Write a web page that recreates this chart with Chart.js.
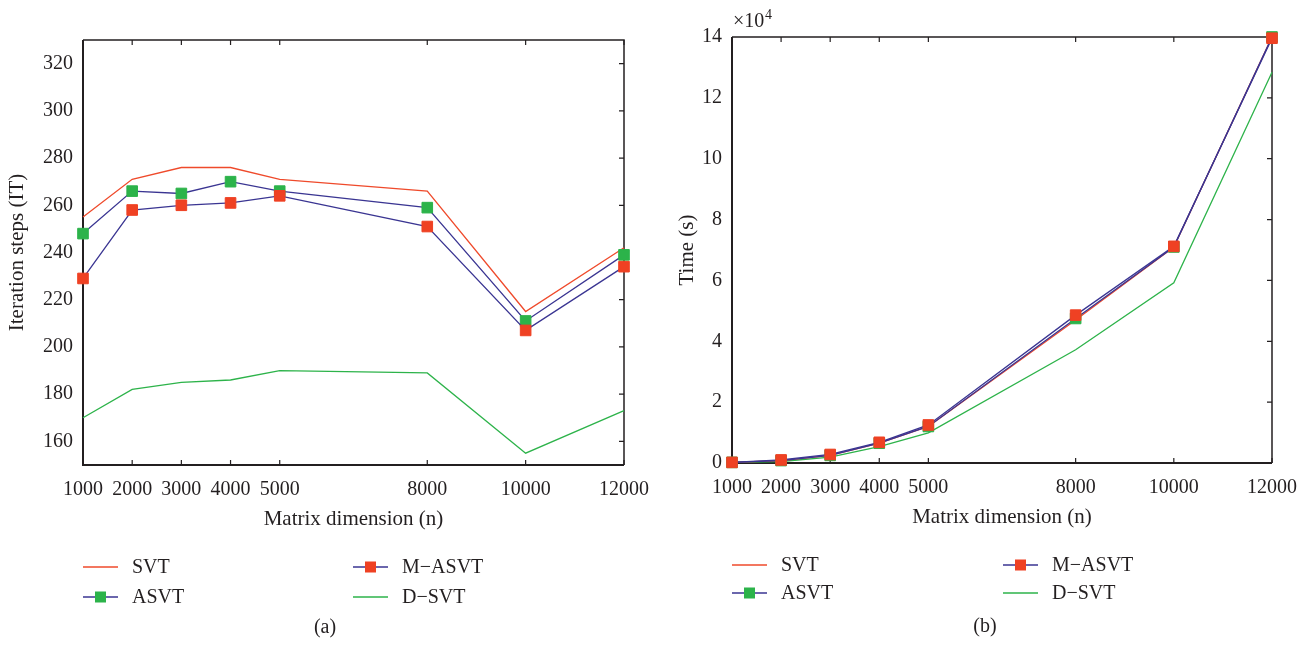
<!DOCTYPE html>
<html>
<head>
<meta charset="utf-8">
<script src="https://cdn.jsdelivr.net/npm/chart.js@4.4.1/dist/chart.umd.min.js"></script>
<style>
  body { margin: 0; background: #fff; overflow: hidden; }
  #wrap { position: relative; width: 1310px; height: 647px; overflow: hidden; }
  canvas { position: absolute; top: 0; }
  #itChart { left: 0; }
  #timeChart { left: 655px; }
</style>
</head>
<body>
<div id="wrap">
  <canvas id="itChart" width="670" height="647"></canvas>
  <canvas id="timeChart" width="665" height="647"></canvas>
</div>
<script>
// matrix dimension n
const dims = [1000, 2000, 3000, 4000, 5000, 8000, 10000, 12000];

// (a) iteration steps
const itSVT  = [255, 271, 276, 276, 271, 266, 215, 242];
const itASVT = [248, 266, 265, 270, 266, 259, 211, 239];
const itMASVT = [229, 258, 260, 261, 264, 251, 207, 234];
const itDSVT = [170, 182, 185, 186, 190, 189, 155, 173];
const itTicks = [160, 180, 200, 220, 240, 260, 280, 300, 320];

// (b) time, in units of 10^4 s
const tSVT  = [0.02, 0.08, 0.25, 0.65, 1.2, 4.7, 7.1, 14.0];
const tASVT = [0.02, 0.08, 0.25, 0.65, 1.2, 4.75, 7.1, 14.0];
const tMASVT = [0.02, 0.1, 0.28, 0.68, 1.25, 4.86, 7.12, 13.96];
const tDSVT = [0.02, 0.05, 0.19, 0.54, 0.99, 3.72, 5.92, 12.84];
const timeTicks = [0, 2, 4, 6, 8, 10, 12, 14];

const INK = '#231f20';
const RED = '#ef4a2b';
const BLUE = '#3a3592';
const GREEN = '#2db34a';
const MRED = '#ef4123';
const MGREEN = '#2cb34a';
const FONT = '"Liberation Serif", "DejaVu Serif", serif';

Chart.defaults.font.family = FONT;
Chart.defaults.font.size = 20;
Chart.defaults.color = INK;

const pts = ys => ys.map((y, i) => ({ x: dims[i], y }));

const makeSets = (svt, asvt, masvt, dsvt) => [
  { label: 'SVT', data: pts(svt), borderColor: RED, pointRadius: 0, order: 3 },
  { label: 'ASVT', data: pts(asvt), borderColor: BLUE, pointStyle: 'rect', pointRadius: 7.5,
    pointBackgroundColor: MGREEN, pointBorderColor: MGREEN, order: 2 },
  { label: 'M\u2212ASVT', data: pts(masvt), borderColor: BLUE, pointStyle: 'rect', pointRadius: 7.5,
    pointBackgroundColor: MRED, pointBorderColor: MRED, order: 1 },
  { label: 'D\u2212SVT', data: pts(dsvt), borderColor: GREEN, pointRadius: 0, order: 4 }
].map(d => Object.assign({ borderWidth: 1.3, clip: false, tension: 0, pointBorderWidth: 1 }, d));

// frame with inward ticks, legend, caption
const framePlugin = {
  id: 'frame',
  beforeDatasetsDraw(chart) {
    const { ctx, chartArea: a, scales: { x, y } } = chart;
    ctx.save();
    ctx.strokeStyle = INK;
    ctx.lineWidth = 1.5;
    ctx.beginPath();
    ctx.moveTo(a.left, a.top); ctx.lineTo(a.right, a.top); ctx.lineTo(a.right, a.bottom);
    ctx.stroke();
    ctx.lineWidth = 2;
    ctx.beginPath();
    ctx.moveTo(a.left, a.top); ctx.lineTo(a.left, a.bottom); ctx.lineTo(a.right, a.bottom);
    ctx.stroke();
    ctx.lineWidth = 1.2;
    ctx.beginPath();
    x.ticks.forEach(t => {
      const px = x.getPixelForValue(t.value);
      ctx.moveTo(px, a.top); ctx.lineTo(px, a.top + 5);
      ctx.moveTo(px, a.bottom); ctx.lineTo(px, a.bottom - 5);
    });
    y.ticks.forEach(t => {
      const py = y.getPixelForValue(t.value);
      ctx.moveTo(a.right, py); ctx.lineTo(a.right - 5, py);
    });
    ctx.stroke();
    ctx.restore();
  },
  afterDraw(chart, args, o) {
    const ctx = chart.ctx;
    ctx.save();
    ctx.font = '20px ' + FONT;
    ctx.fillStyle = INK;
    ctx.textBaseline = 'middle';
    const slots = [[0, 0], [0, 1], [1, 0], [1, 1]]; // SVT, ASVT | M-ASVT, D-SVT
    chart.data.datasets.forEach((ds, i) => {
      const lx = o.cols[slots[i][0]], ly = o.rows[slots[i][1]];
      ctx.strokeStyle = ds.borderColor;
      ctx.lineWidth = 1.5;
      ctx.beginPath(); ctx.moveTo(lx, ly); ctx.lineTo(lx + 35, ly); ctx.stroke();
      if (ds.pointRadius) {
        ctx.fillStyle = ds.pointBackgroundColor;
        ctx.fillRect(lx + 17.5 - 5.5, ly - 5.5, 11, 11);
      }
      ctx.fillStyle = INK;
      ctx.textAlign = 'left';
      ctx.fillText(ds.label, lx + 49, ly + 1);
    });
    ctx.textAlign = 'center';
    ctx.fillText(o.caption, o.capX, o.capY);
    if (o.exp) {
      ctx.textAlign = 'left';
      ctx.textBaseline = 'alphabetic';
      ctx.fillText('\u00d710', chart.chartArea.left + 1, 27);
      ctx.font = '14px ' + FONT;
      ctx.fillText('4', chart.chartArea.left + 33, 19);
    }
    ctx.restore();
  }
};

const makeChart = (id, sets, yMin, yMax, yTicks, yTitle, pad, yTitlePad, frameOpts) => {
  return new Chart(document.getElementById(id).getContext('2d'), {
    type: 'line',
    data: { datasets: sets },
    options: {
      responsive: false,
      animation: false,
      layout: { padding: pad },
      plugins: { legend: { display: false }, tooltip: { enabled: false }, frame: frameOpts },
      scales: {
        x: {
          type: 'linear', min: 1000, max: 12000,
          grid: { display: false, drawTicks: false }, border: { display: false },
          afterBuildTicks: s => { s.ticks = dims.map(v => ({ value: v })); },
          afterFit: s => { s.height = 67; },
          ticks: { autoSkip: false, maxRotation: 0, padding: 13, callback: v => String(v) },
          title: { display: true, text: 'Matrix dimension (n)', font: { size: 21 }, padding: { top: 0, bottom: 0 } }
        },
        y: {
          min: yMin, max: yMax,
          grid: { display: false, drawTicks: false }, border: { display: false },
          afterBuildTicks: s => { s.ticks = yTicks.map(v => ({ value: v })); },
          afterFit: s => { s.width = pad.yw; },
          ticks: { padding: 10, callback: v => String(v) },
          title: { display: true, text: yTitle, font: { size: 21 }, padding: { top: yTitlePad, bottom: 0 } }
        }
      }
    },
    plugins: [framePlugin]
  });
};

makeChart('itChart', makeSets(itSVT, itASVT, itMASVT, itDSVT), 150, 330, itTicks,
  'Iteration steps (IT)', { left: 0, right: 46, top: 40, bottom: 115, yw: 83 }, 5,
  { cols: [83, 353], rows: [567, 597], caption: '(a)', capX: 325, capY: 628 });

makeChart('timeChart', makeSets(tSVT, tASVT, tMASVT, tDSVT), 0, 14, timeTicks,
  'Time (s)', { left: 0, right: 48, top: 37, bottom: 117, yw: 77 }, 20,
  { cols: [77, 348], rows: [565, 593], caption: '(b)', capX: 330, capY: 627, exp: true });
</script>
</body>
</html>
